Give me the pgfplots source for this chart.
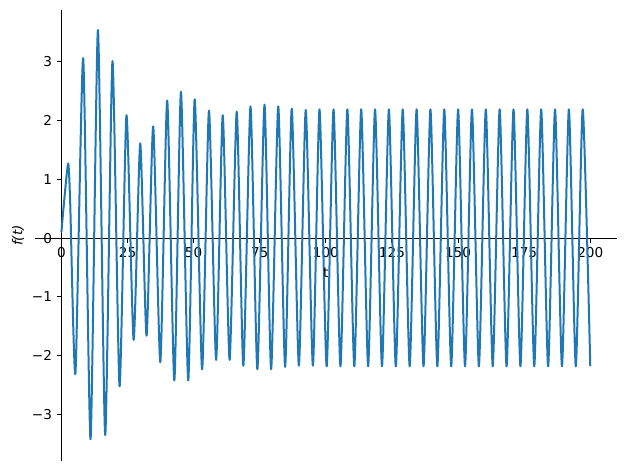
\documentclass[border=0pt]{standalone}
\usepackage{fontspec}
\setmainfont{DejaVu Sans}
\usepackage{pgfplots}
\pgfplotsset{compat=1.18}

\definecolor{mplblue}{HTML}{1F77B4}

\begin{document}
\begin{tikzpicture}
  \begin{axis}[
    scale only axis,
    width=436.3pt, height=338.25pt,
    axis lines=middle,
    axis line style={-, line width=0.8pt},
    xmin=-10, xmax=210, ymin=-3.79, ymax=3.88,
    xtick={0,25,...,200},
    ytick={-3,-2,-1,0,1,2,3},
    yticklabels={−3,−2,−1,0,1,2,3},
    hide obscured x ticks=false, hide obscured y ticks=false,
    tick align=outside,
    major tick length=3.56pt,
    every tick/.style={black, line width=0.8pt},
    /pgf/number format/assume math mode=true,
    tick label style={font=\fontsize{10.2}{12}\selectfont},
    xlabel={t},
    ylabel={\itshape f(t)},
    xlabel style={at={(axis cs:100,0)}, anchor=center, yshift=-26.25pt,
      font=\fontsize{10.2}{12}\selectfont},
    ylabel style={at={(axis description cs:-0.0292,0.5)}, rotate=90,
      anchor=center, font=\fontsize{10.2}{12}\selectfont},
  ]
    % extremes, joined with a smooth curve
    \addplot[mplblue, line width=1.5pt, line join=round, line cap=round,
      smooth, tension=0.37] coordinates {
      (0,0.107) (1.0,0.62) (2.54,1.27) (3.3,0.62)
      (5.3,-2.30) (8.22,3.06) (11.0,-3.42) (13.8,3.54)
      (16.55,-3.35) (19.3,3.01) (21.98,-2.52) (24.6,2.09)
      (27.3,-1.73) (29.8,1.61) (32.2,-1.66) (34.7,1.90)
      (37.4,-2.11) (40.0,2.34) (42.7,-2.42) (45.2,2.49)
      (47.95,-2.42) (50.4,2.36) (53.2,-2.23) (55.8,2.17)
      (58.5,-2.07) (61.0,2.09) (63.6,-2.07) (66.3,2.15)
      (68.8,-2.17) (71.5,2.24) (74.1,-2.23) (76.8,2.27)
      (79.3,-2.23) (82.0,2.24) (84.6,-2.19) (87.1,2.20)
      (89.8,-2.17) (92.4,2.18) (95.1,-2.17) (97.6,2.19)
      (100.3,-2.18) (102.90,2.19) (105.52,-2.18) (108.14,2.19)
      (110.76,-2.18) (113.37,2.19) (115.99,-2.18) (118.61,2.19)
      (121.23,-2.18) (123.84,2.19) (126.46,-2.18) (129.08,2.19)
      (131.70,-2.18) (134.32,2.19) (136.94,-2.18) (139.55,2.19)
      (142.17,-2.18) (144.79,2.19) (147.41,-2.18) (150.02,2.19)
      (152.64,-2.18) (155.26,2.19) (157.88,-2.18) (160.50,2.19)
      (163.12,-2.18) (165.73,2.19) (168.35,-2.18) (170.97,2.19)
      (173.59,-2.18) (176.20,2.19) (178.82,-2.18) (181.44,2.19)
      (184.06,-2.18) (186.68,2.19) (189.30,-2.18) (191.91,2.19)
      (194.53,-2.18) (197.15,2.19) (200,-2.17)
    };
    \coordinate (bl) at (rel axis cs:0,0);
    \coordinate (tr) at (rel axis cs:1,1);
  \end{axis}
  \pgfresetboundingbox
  \path ([xshift=-26.25pt,yshift=-6.75pt]bl) rectangle ([xshift=6.98pt,yshift=7.5pt]tr);
\end{tikzpicture}
\end{document}
